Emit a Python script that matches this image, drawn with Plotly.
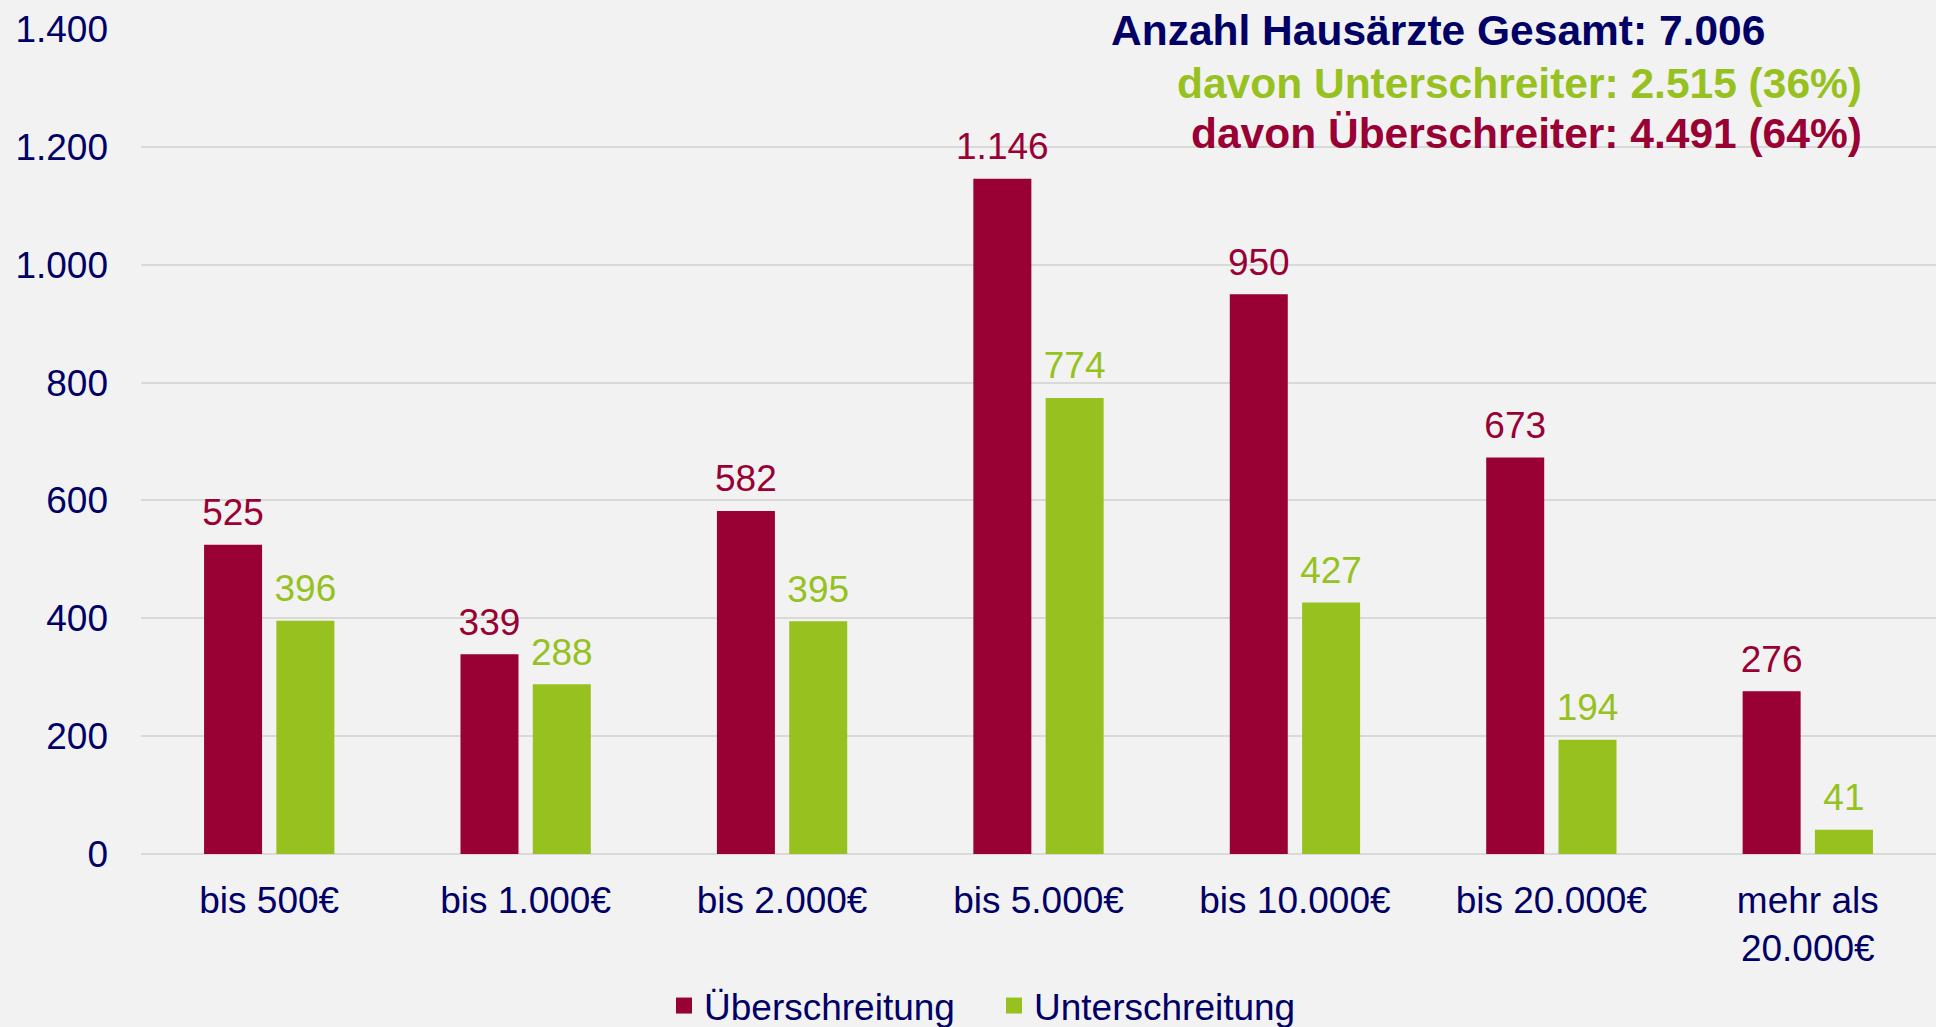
import plotly.graph_objects as go

categories = ["bis 500€", "bis 1.000€", "bis 2.000€", "bis 5.000€", "bis 10.000€", "bis 20.000€", "mehr als<br>20.000€"]
ueberschreitung = [525, 339, 582, 1146, 950, 673, 276]
unterschreitung = [396, 288, 395, 774, 427, 194, 41]
series_names = ["Überschreitung", "Unterschreitung"]
y_ticks = [0, 200, 400, 600, 800, 1000, 1200, 1400]
summary_lines = [
    "Anzahl Hausärzte Gesamt: 7.006",
    "davon Unterschreiter: 2.515 (36%)",
    "davon Überschreiter: 4.491 (64%)",
]

RED = "#990033"
GREEN = "#96C11F"
NAVY = "#000066"
BG = "#F2F2F2"
FONT = "Liberation Sans, Arial, sans-serif"
GAP = 0.436

fig = go.Figure()
series = [(ueberschreitung, series_names[0], RED, "a"), (unterschreitung, series_names[1], GREEN, "b")]
for vals, name, col, grp in series:
    fig.add_trace(go.Bar(
        x=categories, y=vals, name=name, showlegend=False, offsetgroup=grp,
        marker=dict(color=col, line=dict(width=0)),
    ))
# value labels (grouped scatter text aligned with the bars)
for vals, name, col, grp in series:
    fig.add_trace(go.Scatter(
        x=categories, y=vals, mode="markers+text", showlegend=False, offsetgroup=grp,
        texttemplate="%{y:,d}", textposition="top center",
        marker=dict(size=15, opacity=0, color=col),
        textfont=dict(color=col, size=37, family=FONT), cliponaxis=False, hoverinfo="skip",
    ))
# legend entries with larger square symbols
for vals, name, col, grp in series:
    fig.add_trace(go.Scatter(
        x=[None], y=[None], mode="markers", name=name,
        marker=dict(symbol="square", size=18, color=col),
    ))

W, H = 1936, 1027
L, R, T, B = 141, 0, 29, 173
pw, ph = W - L - R, H - T - B

def px_x(px):
    return (px - L) / pw

def px_y(py):
    return (H - B - py) / ph

ann_colors = [NAVY, GREEN, RED]
ann_pos = [(1438, 30, "center"), (1864, 84, "right"), (1864, 133, "right")]
annotations = []
for text, col, (ax, ay, anc) in zip(summary_lines, ann_colors, ann_pos):
    annotations.append(dict(
        text="<b>" + text + "</b>", x=px_x(ax), y=px_y(ay), xref="paper", yref="paper",
        xanchor=anc, yanchor="middle", showarrow=False,
        font=dict(size=42.5, color=col, family=FONT),
    ))

fig.update_layout(
    width=W, height=H,
    margin=dict(l=L, r=R, t=T, b=B, pad=0, autoexpand=False),
    paper_bgcolor=BG, plot_bgcolor=BG,
    barmode="group", bargap=GAP, bargroupgap=0.198,
    scattermode="group", scattergap=GAP,
    separators=",.",
    font=dict(family=FONT, color=NAVY, size=37),
    showlegend=True,
    legend=dict(orientation="h", x=px_x(664), xanchor="left", y=px_y(1006), yanchor="middle",
                font=dict(size=37, color=NAVY, family=FONT), bgcolor="rgba(0,0,0,0)",
                itemwidth=30, entrywidth=285, traceorder="normal"),
    annotations=annotations,
    xaxis=dict(showgrid=False, showline=False, ticks="", tickfont=dict(size=37, color=NAVY),
               ticklabelstandoff=21, automargin=False),
    yaxis=dict(range=[0, 1400], tickvals=y_ticks, tickformat=",d", showgrid=True,
               gridcolor="#D9D9D9", gridwidth=1.5, zeroline=True, zerolinecolor="#D9D9D9",
               zerolinewidth=2, showline=False, ticks="", tickfont=dict(size=37, color=NAVY),
               ticklabelstandoff=32, automargin=False),
)

fig.write_html("out.html", config={"displayModeBar": False},
               post_script="document.body.style.margin='0';document.body.style.overflow='hidden';")
